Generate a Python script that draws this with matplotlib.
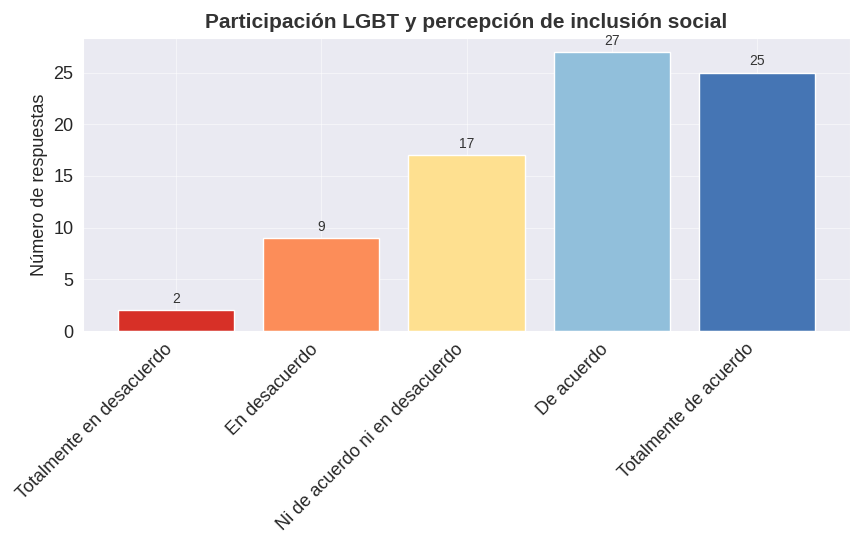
import matplotlib
matplotlib.use("Agg")
import matplotlib.pyplot as plt
import seaborn as sns

categories = ["Totalmente en desacuerdo", "En desacuerdo", "Ni de acuerdo ni en desacuerdo",
              "De acuerdo", "Totalmente de acuerdo"]
values = [2, 9, 17, 27, 25]
colors = ["#d73027", "#fc8d59", "#fee090", "#91bfdb", "#4575b4"]

sns.set_style("darkgrid")
plt.rcParams['font.family'] = ['Liberation Sans', 'DejaVu Sans']

fig = plt.figure(figsize=(8.51, 5.39), dpi=100)
ax = fig.add_axes([83/851, 1 - 331/539, (850 - 83)/851, (331 - 38)/539])
ax.grid(True, alpha=0.5)
x = list(range(len(categories)))
bars = ax.bar(x, values, color=colors, width=0.8, edgecolor="white", linewidth=1)
for xi, v in zip(x, values):
    ax.text(xi, v + 0.4, str(v), ha="center", va="bottom", fontsize=10, color="#333333")
ax.set_ylim(0, 28.35)
ax.set_xlim(-0.64, 4.64)
ax.set_xticks(x)
ax.set_xticklabels(categories, rotation=45, ha="right", fontsize=13)
ax.tick_params(axis="y", labelsize=13)
ax.set_ylabel("Número de respuestas", fontsize=13)
ax.set_title("Participación LGBT y percepción de inclusión social", fontsize=15,
             fontweight="bold", color="#333333", pad=7)
fig.savefig("out.png", dpi=100)
